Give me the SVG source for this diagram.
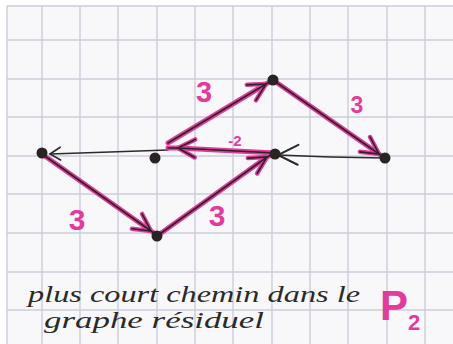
<svg xmlns="http://www.w3.org/2000/svg" width="453" height="344" viewBox="0 0 453 344">
<defs>
<style>
.grid{stroke:#cdcddb;stroke-width:1.4;fill:none}
.pink{stroke:#e03c9c;stroke-width:5;fill:none;stroke-linecap:round;stroke-linejoin:round}
.core{stroke:#2b2326;stroke-width:1.6;fill:none;stroke-linecap:round}
.thin{stroke:#2b2b2b;stroke-width:1.5;fill:none;stroke-linecap:round}
.dot{fill:#2a2323}
.lbl{font-family:"Liberation Sans",Arial,sans-serif;font-weight:bold;fill:#e03c9c}
.hand{font-family:"Liberation Serif","Times New Roman",serif;font-style:italic;fill:#2a2a2a}
</style>
<marker id="ahPink" markerUnits="userSpaceOnUse" markerWidth="40" markerHeight="40" refX="0" refY="0" viewBox="-20 -20 40 40" orient="auto" overflow="visible">
<path d="M-17,-9 L0,0 L-17,9" stroke="#e03c9c" stroke-width="4.5" fill="none" stroke-linecap="round" stroke-linejoin="round"/>
</marker>
<marker id="ahCore" markerUnits="userSpaceOnUse" markerWidth="40" markerHeight="40" refX="0" refY="0" viewBox="-20 -20 40 40" orient="auto" overflow="visible">
<path d="M-17,-9 L0,0 L-17,9" stroke="#2b2326" stroke-width="1.6" fill="none" stroke-linecap="round"/>
</marker>
<marker id="ahThin" markerUnits="userSpaceOnUse" markerWidth="40" markerHeight="40" refX="0" refY="0" viewBox="-25 -25 50 50" orient="auto" overflow="visible">
<path d="M-13,-8 L0,0 L-13,8" stroke="#2b2b2b" stroke-width="2" fill="none" stroke-linecap="round"/>
</marker>
<marker id="ahBig" markerUnits="userSpaceOnUse" markerWidth="50" markerHeight="50" refX="0" refY="0" viewBox="-25 -25 50 50" orient="auto" overflow="visible">
<path d="M-20,-9 L0,0 L-20,11" stroke="#2b2b2b" stroke-width="2" fill="none" stroke-linecap="round"/>
</marker>
</defs>
<rect x="0" y="0" width="453" height="344" fill="#ffffff"/>
<rect x="7" y="6" width="446" height="338" fill="#f8f8fb"/>
<g id="grid" class="grid">
<path d="M7,6 H453 M7,40 H453 M7,79 H453 M7,117 H453 M7,156 H453 M7,194 H453 M7,233 H453 M7,272 H453 M7,310 H453"/>
<path d="M7,6 V344 M42,6 V344 M80,6 V344 M118,6 V344 M157,6 V344 M195,6 V344 M233,6 V344 M272,6 V344 M310,6 V344 M348,6 V344 M387,6 V344 M425,6 V344"/>
</g>
<g id="connectors">
<path class="thin" d="M385,158 L330,157 L278,155" marker-end="url(#ahBig)"/>
<path class="thin" d="M168,150 L110,152 L50,154" marker-end="url(#ahThin)"/>
<path class="pink" d="M42,154 L151,231 L157,235" marker-mid="url(#ahPink)"/>
<path class="core" d="M42,154 L151,231 L157,235" marker-mid="url(#ahCore)"/>
<path class="pink" d="M157,236 L267,157 L275,153" marker-mid="url(#ahPink)"/>
<path class="core" d="M157,236 L267,157 L275,153" marker-mid="url(#ahCore)"/>
<path class="pink" d="M275,153 L178,148 L168,148" marker-mid="url(#ahPink)"/>
<path class="core" d="M275,153 L178,148 L168,148" marker-mid="url(#ahCore)"/>
<path class="pink" d="M168,143 L266,84 L273,80" marker-mid="url(#ahPink)"/>
<path class="core" d="M168,143 L266,84 L273,80" marker-mid="url(#ahCore)"/>
<path class="pink" d="M273,80 L379,154 L385,158" marker-mid="url(#ahPink)"/>
<path class="core" d="M273,80 L379,154 L385,158" marker-mid="url(#ahCore)"/>
<text class="lbl" x="77" y="230" font-size="30" text-anchor="middle">3</text>
<text class="lbl" x="217" y="226" font-size="30" text-anchor="middle">3</text>
<text class="lbl" x="204" y="102" font-size="29" text-anchor="middle">3</text>
<text class="lbl" x="357" y="113" font-size="23" text-anchor="middle">3</text>
<text class="lbl" x="235" y="146" font-size="15" text-anchor="middle">-2</text>
</g>
<g id="n-a"><circle class="dot" cx="42" cy="153" r="5.5"/></g>
<g id="n-b"><circle class="dot" cx="155" cy="158" r="5.5"/></g>
<g id="n-c"><circle class="dot" cx="157" cy="236" r="5.5"/></g>
<g id="n-d"><circle class="dot" cx="273" cy="80" r="5.5"/></g>
<g id="n-e"><circle class="dot" cx="275" cy="154" r="5.5"/></g>
<g id="n-f"><circle class="dot" cx="385" cy="158" r="5.5"/></g>
<g id="caption">
<text class="hand" x="28" y="302" font-size="23" textLength="332" lengthAdjust="spacingAndGlyphs">plus court chemin dans le</text>
<text class="hand" x="44" y="328" font-size="23" textLength="220" lengthAdjust="spacingAndGlyphs">graphe résiduel</text>
<text class="lbl" x="380" y="320" font-size="42" font-weight="normal">P</text>
<text class="lbl" x="408" y="330" font-size="22">2</text>
</g>
</svg>
